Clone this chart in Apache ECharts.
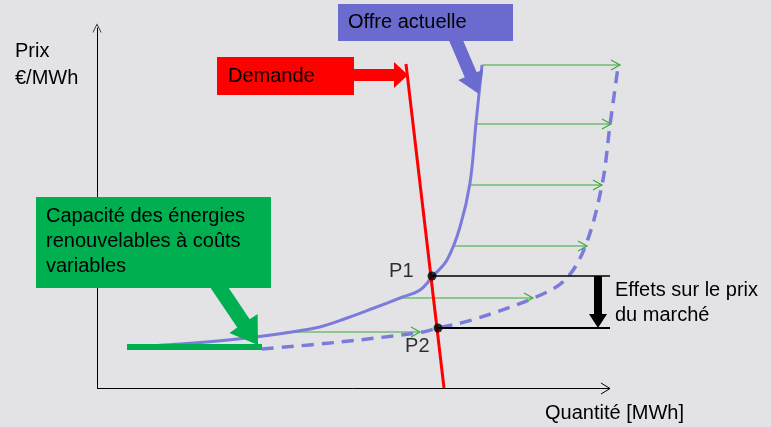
<!DOCTYPE html>
<html>
<head>
<meta charset="utf-8">
<script src="https://cdn.jsdelivr.net/npm/echarts@6/dist/echarts.min.js"></script>
<style>
  html, body { margin: 0; padding: 0; background: #e3e3e6; }
  #chart { width: 771px; height: 427px; }
</style>
</head>
<body>
<div id="chart"></div>
<script>
// offre actuelle (courbe pleine) [quantité, prix]
var offreActuelle = [[30, 41], [83, 44], [149, 50], [218, 60], [250, 70], [277, 80], [303, 90],
  [323, 98], [336, 112], [350, 128], [363, 161], [373, 205], [379, 265], [385, 323]];
// offre avec renouvelables (courbe pointillée)
var offreNouvelle = [[165, 39], [243, 46], [326, 56], [341, 60], [375, 68], [439, 91], [468, 108],
  [488, 141], [505, 203], [513, 263], [521, 321]];
// capacité renouvelable (segment vert)
var renouvelable = [[30, 41], [165, 41]];
// demande
var demande = [[309, 324], [347, 0]];
// déplacements de l'offre : [x début, x fin, prix]
var deplacements = [[385, 523, 323], [379, 514, 264], [373, 505, 203], [355, 490, 142], [303, 436, 90], [188, 323, 56]];
// points d'équilibre
var p1 = [335, 112];
var p2 = [341, 60];
var xFin = 513;

var chart = echarts.init(document.getElementById('chart'));

var chevron = 'path://M0,10 L5,0 L10,10 L9.2,10 L5,1.6 L0.8,10 Z';
var police = '20px Liberation Sans, Arial, sans-serif';

function arrowPts(x1, y1, x2, y2, shaft, head, headLen) {
  var dx = x2 - x1, dy = y2 - y1, len = Math.sqrt(dx * dx + dy * dy);
  var ux = dx / len, uy = dy / len, nx = -uy, ny = ux;
  var bx = x2 - ux * headLen, by = y2 - uy * headLen;
  return [
    [x1 + nx * shaft / 2, y1 + ny * shaft / 2],
    [bx + nx * shaft / 2, by + ny * shaft / 2],
    [bx + nx * head / 2, by + ny * head / 2],
    [x2, y2],
    [bx - nx * head / 2, by - ny * head / 2],
    [bx - nx * shaft / 2, by - ny * shaft / 2],
    [x1 - nx * shaft / 2, y1 - ny * shaft / 2]
  ];
}

var option = {
  backgroundColor: '#e3e3e6',
  animation: false,
  grid: { left: 97, right: 144, top: 28, bottom: 39 },
  xAxis: {
    type: 'value', min: 0, max: 530,
    axisLine: { show: false },
    axisTick: { show: false }, axisLabel: { show: false }, splitLine: { show: false }
  },
  yAxis: {
    type: 'value', min: 0, max: 360,
    axisLine: { show: true, lineStyle: { color: '#000', width: 1 }, symbol: ['none', chevron], symbolSize: [11, 9] },
    axisTick: { show: false }, axisLabel: { show: false }, splitLine: { show: false }
  },
  series: [
    {
      // axe des quantités
      type: 'custom', clip: false, z: 1,
      data: [[0, xFin]],
      renderItem: function (params, api) {
        var a = api.coord([api.value(0), 0]);
        var b = api.coord([api.value(1), 0]);
        var y = Math.round(a[1]) + 0.5;
        return {
          type: 'group', children: [
            { type: 'line', shape: { x1: a[0], y1: y, x2: b[0], y2: y }, style: { stroke: '#000', lineWidth: 1 } },
            { type: 'polyline', shape: { points: [[b[0] - 9, y - 5.5], [b[0], y], [b[0] - 9, y + 5.5]] }, style: { stroke: '#000', lineWidth: 1, fill: null } }
          ]
        };
      }
    },
    {
      type: 'line', data: offreNouvelle, smooth: 0.35, clip: false, symbol: 'none', z: 3,
      lineStyle: { color: '#7b7bdc', width: 3.5, type: [12, 8] }
    },
    {
      type: 'line', data: offreActuelle, smooth: 0.35, clip: false, symbol: 'none', z: 3,
      lineStyle: { color: '#7b7bdc', width: 3 }
    },
    {
      type: 'line', data: renouvelable, clip: false, symbol: 'none', z: 4,
      lineStyle: { color: '#00b050', width: 6 }
    },
    {
      type: 'custom', clip: false, z: 2,
      data: deplacements,
      renderItem: function (params, api) {
        var a = api.coord([api.value(0), api.value(2)]);
        var b = api.coord([api.value(1), api.value(2)]);
        return {
          type: 'group', children: [
            { type: 'line', shape: { x1: a[0], y1: a[1], x2: b[0], y2: b[1] }, style: { stroke: '#3aaa3a', lineWidth: 1.2 } },
            { type: 'polyline', shape: { points: [[b[0] - 9, b[1] - 5], [b[0], b[1]], [b[0] - 9, b[1] + 5]] }, style: { stroke: '#3aaa3a', lineWidth: 1.2, fill: null } }
          ]
        };
      }
    },
    {
      type: 'custom', clip: false, z: 4,
      data: [[p1[0], p1[1], p2[0], p2[1]]],
      renderItem: function (params, api) {
        var a = api.coord([api.value(0), api.value(1)]);
        var b = api.coord([api.value(2), api.value(3)]);
        var e = api.coord([xFin, api.value(1)]);
        var f = api.coord([xFin, api.value(3)]);
        var ax = e[0] - 12;
        return {
          type: 'group', children: [
            { type: 'line', shape: { x1: a[0], y1: a[1], x2: e[0], y2: e[1] }, style: { stroke: '#000', lineWidth: 1.5 } },
            { type: 'line', shape: { x1: b[0], y1: b[1], x2: f[0], y2: f[1] }, style: { stroke: '#000', lineWidth: 2 } },
            { type: 'polygon', shape: { points: arrowPts(ax, e[1], ax, f[1], 8, 18, 14) }, style: { fill: '#000' } },
            { type: 'text', style: { text: 'Effets sur le prix\ndu marché', x: e[0] + 5, y: (e[1] + f[1]) / 2 + 1, verticalAlign: 'middle', lineHeight: 25, font: police, fill: '#000' } }
          ]
        };
      }
    },
    {
      type: 'line', data: demande, clip: false, symbol: 'none', z: 5,
      lineStyle: { color: '#ff0000', width: 3 }
    },
    {
      type: 'scatter', z: 6, symbolSize: 9, itemStyle: { color: '#000' },
      data: [
        { value: p1, label: { show: true, formatter: 'P1', position: 'left', distance: 14, offset: [0, -5], fontSize: 20, color: '#000', fontFamily: 'Liberation Sans, Arial' } },
        { value: p2, label: { show: true, formatter: 'P2', position: 'left', distance: 4, offset: [0, 18], fontSize: 20, color: '#000', fontFamily: 'Liberation Sans, Arial' } }
      ]
    }
  ],
  graphic: [
    { type: 'text', left: 15, top: 38, style: { text: 'Prix\n€/MWh', lineHeight: 27, font: police, fill: '#000' } },
    { type: 'text', left: 545, top: 403, style: { text: 'Quantité [MWh]', font: police, fill: '#000' } },
    // Offre actuelle
    { type: 'polygon', z: 10, shape: { points: arrowPts(455, 38, 479, 94, 13, 27, 21) }, style: { fill: '#6b6bcf' } },
    { type: 'rect', z: 10, shape: { x: 338, y: 4, width: 175, height: 37 }, style: { fill: '#6b6bcf' } },
    { type: 'text', z: 11, left: 348, top: 12, style: { text: 'Offre actuelle', font: police, fill: '#000' } },
    // Demande
    { type: 'polygon', z: 10, shape: { points: arrowPts(350, 75, 408, 75, 12, 26, 14) }, style: { fill: '#ff0000' } },
    { type: 'rect', z: 10, shape: { x: 217, y: 57, width: 137, height: 38 }, style: { fill: '#ff0000' } },
    { type: 'text', z: 11, left: 228, top: 66, style: { text: 'Demande', font: police, fill: '#000' } },
    // Capacité renouvelable
    { type: 'polygon', z: 10, shape: { points: arrowPts(217, 284, 258, 345, 15, 34, 26) }, style: { fill: '#00b050' } },
    { type: 'rect', z: 10, shape: { x: 36, y: 197, width: 235, height: 91 }, style: { fill: '#00b050' } },
    { type: 'text', z: 11, left: 46, top: 204, style: { text: 'Capacité des énergies\nrenouvelables à coûts\nvariables', lineHeight: 25, font: police, fill: '#000' } }
  ]
};

chart.setOption(option);
</script>
</body>
</html>
